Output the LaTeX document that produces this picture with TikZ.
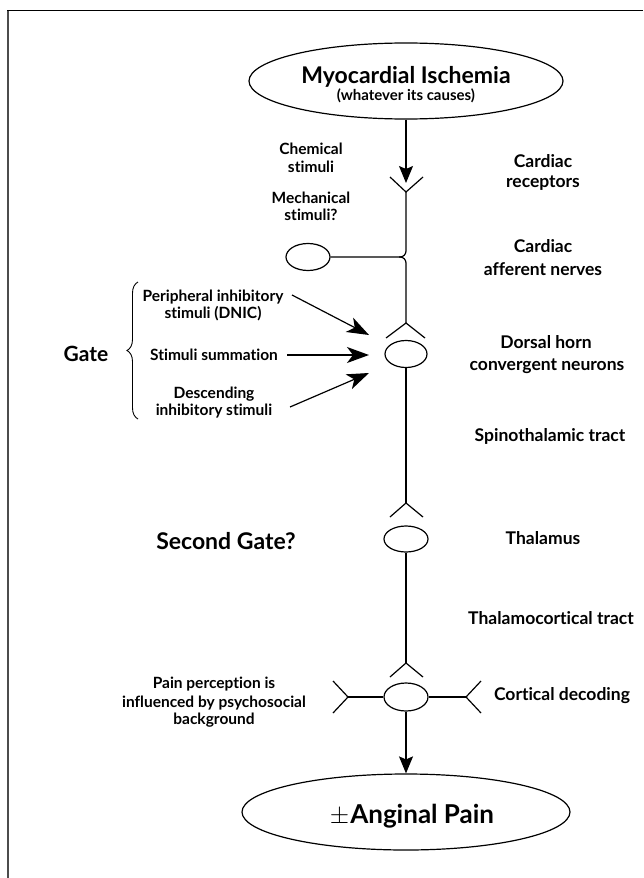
\documentclass[tikz,border=0pt]{standalone}
\usepackage{fontspec}
\setmainfont{Lato}[Ligatures=NoCommon]
\usetikzlibrary{shapes.geometric,arrows.meta,decorations.pathreplacing}
\tikzset{
  neuron/.style={ellipse, draw, line width=1.2pt, inner sep=0pt, minimum width=44pt, minimum height=27pt},
  bigell/.style={ellipse, draw, line width=1.2pt, inner sep=0pt},
  small/.style={anchor=base, inner sep=0pt, font=\bfseries\fontsize{15.5}{18}\selectfont},
  right lbl/.style={anchor=base, inner sep=0pt, font=\bfseries\fontsize{17.5}{20}\selectfont},
  gatelbl/.style={anchor=base, inner sep=0pt, font=\bfseries\fontsize{21}{24}\selectfont},
  wire/.style={line width=1.2pt},
  bigarrow/.style={line width=1.2pt, -{Stealth[length=22pt, width=16pt, inset=6pt]}},
  downarrow/.style={line width=1.2pt, -{Stealth[length=17pt, width=14pt, inset=3pt]}}
}
\begin{document}
\begin{tikzpicture}[x=1pt, y=-1pt]
\useasboundingbox (0,0) rectangle (643,878);
% frame
\draw[line width=2pt, black!70] (8,878) -- (8,10);
\draw[line width=1pt] (7,10) -- (643,10);

% top ellipse
\node[bigell, minimum width=314pt, minimum height=76pt] (isch) at (406,81) {};
\node[anchor=base, inner sep=0pt, font=\bfseries\fontsize{23}{26}\selectfont] (ischA) at (406,83) {Myocardial Ischemia};
\node[anchor=base, inner sep=0pt, font=\bfseries\fontsize{15}{18}\selectfont] (ischB) at (406,100) {(whatever its causes)};

% receptor
\coordinate (rv) at (406,192);
\coordinate (rvL) at (390,177);
\coordinate (rvR) at (423,177);
\coordinate (rtip) at (406,183);
\draw[downarrow] (isch.south) -- (rtip);
\draw[wire] (rvL) -- (rv) -- (rvR);

% afferent
\node[neuron] (aff) at (308,257) {};
\coordinate (bend) at (406,257);
\coordinate (bendS) at (399,257);
\draw[wire, rounded corners=6pt] (rv) -- (bend) -- (aff.east);

% dorsal horn
\coordinate (dhA) at (406,323);
\coordinate (dhL) at (386,338);
\coordinate (dhR) at (425,338);
\node[neuron, minimum width=42pt] (dh) at (406,354) {};
\draw[wire, rounded corners=6pt] (bendS) -- (bend) -- (dhA);
\draw[wire] (dhL) -- (dhA) -- (dhR);

% thalamus
\coordinate (thA) at (406,503);
\coordinate (thL) at (390,517);
\coordinate (thR) at (423,517);
\node[neuron, minimum height=26pt] (th) at (406,539) {};
\draw[wire] (dh.south) -- (thA);
\draw[wire] (thL) -- (thA) -- (thR);

% cortex
\coordinate (cxA) at (406,663);
\coordinate (cxL) at (390,677);
\coordinate (cxR) at (423,677);
\node[neuron, minimum height=28pt] (cx) at (406,697) {};
\draw[wire] (th.south) -- (cxA);
\draw[wire] (cxL) -- (cxA) -- (cxR);
\coordinate (lv) at (348,697);
\coordinate (lvU) at (333,681);
\coordinate (lvD) at (333,713);
\coordinate (rvx) at (466,697);
\coordinate (rvxU) at (481,681);
\coordinate (rvxD) at (481,713);
\draw[wire] (cx.west) -- (lv);
\draw[wire] (lvU) -- (lv) -- (lvD);
\draw[wire] (cx.east) -- (rvx);
\draw[wire] (rvxU) -- (rvx) -- (rvxD);

% bottom ellipse
\node[bigell, minimum width=328pt, minimum height=76pt] (pain) at (406,812) {};
\node[anchor=base, inner sep=0pt, font=\bfseries\fontsize{26}{30}\selectfont] (painT) at (412,823) {$\pm$\kern1pt Anginal Pain};
\draw[downarrow] (cx.south) -- (pain.north);

% left labels near receptor
\node[small] (chem1) at (311,154) {Chemical};
\node[small] (chem2) at (311,172) {stimuli};
\node[small] (mech1) at (311,203) {Mechanical};
\node[small] (mech2) at (311,220) {stimuli?};

% gate inputs
\node[small] (p1) at (213,301) {Peripheral inhibitory};
\node[small] (p2) at (213,318) {stimuli (DNIC)};
\node[small] (s1) at (214,360) {Stimuli summation};
\node[small] (d1) at (214,398) {Descending};
\node[small] (d2) at (214,415) {inhibitory stimuli};
\coordinate (a1s) at (292,295);
\coordinate (a1e) at (369,335);
\coordinate (a2s) at (287,355);
\coordinate (a2e) at (369,355);
\coordinate (a3s) at (290,407);
\coordinate (a3e) at (369,373);
\draw[bigarrow] (a1s) -- (a1e);
\draw[bigarrow] (a2s) -- (a2e);
\draw[bigarrow] (a3s) -- (a3e);

% brace and Gate
\coordinate (brB) at (138,419);
\coordinate (brT) at (138,282);
\draw[line width=0.9pt, decorate, decoration={brace, amplitude=11pt}] (brB) -- (brT);
\node[gatelbl] (gate) at (86,361) {Gate};
\node[gatelbl, font=\bfseries\fontsize{23}{26}\selectfont] (gate2) at (226,549) {Second Gate?};

% pain perception
\node[small] (pp1) at (214,688) {Pain perception is};
\node[small] (pp2) at (214,707) {influenced by psychosocial};
\node[small] (pp3) at (214,724) {background};

% right labels
\node[right lbl] (cr1) at (543,167) {Cardiac};
\node[right lbl] (cr2) at (543,187) {receptors};
\node[right lbl] (ca1) at (543,252) {Cardiac};
\node[right lbl] (ca2) at (543,275) {afferent nerves};
\node[right lbl] (dn1) at (546,348) {Dorsal horn};
\node[right lbl] (dn2) at (547,370) {convergent neurons};
\node[right lbl] (st) at (550,441) {Spinothalamic tract};
\node[right lbl] (tl) at (543,544) {Thalamus};
\node[right lbl] (tc) at (551,624) {Thalamocortical tract};
\node[right lbl] (cd) at (562,700) {Cortical decoding};
\end{tikzpicture}
\end{document}
